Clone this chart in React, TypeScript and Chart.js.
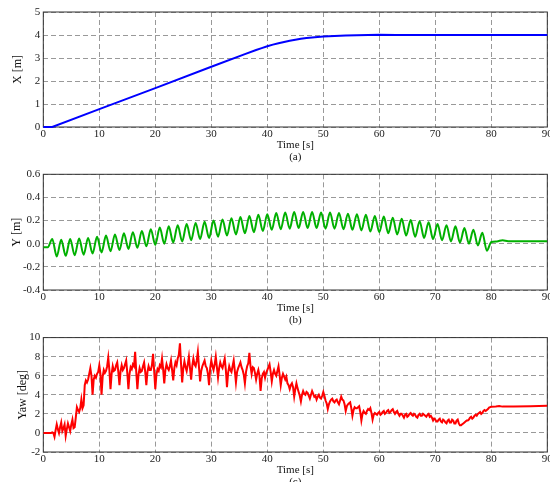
import React, { useEffect, useRef } from 'react';
import { Chart, registerables } from 'chart.js';

Chart.register(...registerables);

// ---------- Data ----------
const timeMin = 0;
const timeMax = 90;
const timeStep = 10;

// (a) X position [m]
const xTimes = [0, 1.6, 10, 20, 30, 36, 38, 39, 40, 41, 42, 43, 44, 45, 46, 47, 48, 50, 52, 54, 56, 58, 60, 63, 66, 70, 80, 90];
const xValues = [0, 0, 0.78, 1.69, 2.62, 3.17, 3.35, 3.43, 3.51, 3.58, 3.645, 3.7, 3.75, 3.795, 3.835, 3.87, 3.895, 3.935, 3.96, 3.98, 3.99, 4.0, 4.01, 4.0, 3.995, 4.0, 4.0, 4.0];

// (b) Y position [m] : samples every 0.8 s from 0 to 80 s (peaks / troughs)
const ySampleStart = 0;
const ySampleStep = 0.8;
const yValues = [
  -0.03, -0.03, 0.04, -0.11, 0.035, -0.105, 0.04, -0.1, 0.045, -0.095,
  0.05, -0.085, 0.06, -0.075, 0.07, -0.065, 0.08, -0.055, 0.09, -0.045,
  0.1, -0.035, 0.11, -0.022, 0.125, -0.01, 0.14, 0.0, 0.15, 0.01,
  0.16, 0.02, 0.17, 0.03, 0.18, 0.04, 0.19, 0.05, 0.2, 0.06,
  0.21, 0.07, 0.22, 0.08, 0.23, 0.09, 0.24, 0.1, 0.25, 0.11,
  0.255, 0.12, 0.265, 0.125, 0.27, 0.13, 0.275, 0.135, 0.275, 0.135,
  0.275, 0.135, 0.27, 0.13, 0.27, 0.13, 0.265, 0.125, 0.26, 0.12,
  0.255, 0.115, 0.25, 0.105, 0.24, 0.1, 0.235, 0.09, 0.225, 0.08,
  0.215, 0.07, 0.205, 0.06, 0.195, 0.05, 0.185, 0.04, 0.17, 0.03,
  0.16, 0.02, 0.15, 0.01, 0.135, 0.0, 0.12, -0.015, 0.095, -0.06,
  0.015,
];
const yTailTimes = [81.0, 82.0, 83.0, 90];
const yTailValues = [0.02, 0.03, 0.022, 0.022];

// (c) Yaw [deg] : samples every 0.2 s from 0 to 80 s
const yawSampleStart = 0;
const yawSampleStep = 0.2;
const yawValues = [
  0, 0, 0, 0, 0, 0, 0, 0, 0.05, 0.0, -0.4, 0.3, 0.9, 0.4, 0.0, 0.6, 1.1, 0.2, 0.5, 0.9,
  -0.3, 0.4, 1.0, 0.6, 0.2, 0.9, 1.4, 0.5, 0.6, 1.6, 2.7, 2.4, 2.2, 2.6, 3.5, 2.6, 2.9, 5.0, 5.5, 5.3,
  5.6, 6.2, 6.8, 6.0, 4.0, 5.6, 6.0, 5.8, 6.2, 6.4, 7.1, 6.2, 4.0, 5.9, 6.6, 6.3, 6.5, 7.0, 7.9, 6.6,
  4.6, 6.2, 7.0, 6.5, 6.6, 7.1, 7.4, 6.4, 5.0, 6.5, 7.1, 6.6, 6.8, 7.2, 7.6, 6.3, 4.6, 6.2, 6.9, 6.7,
  7.2, 7.0, 8.5, 6.4, 4.6, 6.1, 6.8, 6.4, 6.5, 7.0, 7.4, 6.4, 5.0, 6.4, 7.0, 6.6, 6.6, 7.1, 8.3, 6.5,
  4.6, 6.1, 6.7, 6.5, 7.1, 6.9, 7.8, 6.7, 5.2, 6.6, 7.2, 6.8, 6.6, 7.0, 7.6, 6.6, 5.5, 6.8, 7.4, 7.1,
  7.8, 8.2, 9.4, 7.2, 5.3, 6.8, 7.5, 6.9, 6.5, 7.2, 8.0, 6.8, 5.6, 7.0, 7.8, 7.2, 7.0, 7.6, 8.5, 6.9,
  5.4, 6.5, 7.0, 7.3, 7.6, 7.0, 6.8, 6.2, 5.0, 6.8, 7.6, 7.0, 6.6, 7.2, 8.0, 6.9, 5.8, 6.8, 7.4, 7.0,
  6.8, 7.3, 7.8, 6.6, 4.8, 6.3, 7.0, 6.6, 6.4, 7.0, 7.6, 6.5, 5.3, 6.4, 6.8, 7.1, 7.4, 6.9, 6.6, 6.1,
  5.2, 6.4, 7.0, 7.3, 8.4, 7.0, 6.2, 6.9, 6.8, 6.3, 5.6, 6.2, 6.6, 6.0, 4.4, 5.7, 6.2, 6.4, 5.8, 6.3,
  6.6, 6.9, 7.2, 6.4, 5.4, 6.2, 6.6, 6.2, 6.0, 6.5, 7.0, 6.1, 5.0, 5.8, 6.2, 5.9, 5.6, 5.9, 5.2, 5.0,
  4.6, 5.0, 5.2, 4.8, 3.8, 4.6, 5.2, 4.7, 4.3, 3.9, 3.3, 4.0, 4.4, 4.1, 4.0, 4.3, 4.2, 3.9, 3.6, 4.0,
  4.4, 4.1, 3.8, 3.9, 3.5, 3.8, 4.0, 3.7, 3.6, 3.9, 4.3, 3.9, 3.4, 3.1, 2.5, 3.0, 3.3, 3.5, 3.6, 3.3,
  3.2, 3.4, 3.5, 3.2, 3.0, 3.4, 3.8, 3.5, 3.4, 3.0, 2.3, 2.8, 3.0, 3.1, 3.2, 2.6, 1.8, 2.4, 2.7, 2.6,
  2.6, 2.7, 2.8, 2.2, 1.3, 2.0, 2.3, 2.1, 2.0, 2.3, 2.5, 2.4, 2.6, 2.1, 1.4, 1.9, 2.1, 2.0, 1.9, 2.1,
  2.2, 1.9, 2.0, 2.2, 2.3, 2.0, 2.1, 2.3, 2.4, 2.1, 2.2, 2.4, 2.5, 2.2, 2.0, 2.2, 2.3, 2.0, 1.8, 2.0,
  2.0, 1.8, 1.6, 1.9, 2.0, 1.7, 1.8, 2.0, 2.1, 1.9, 1.8, 2.0, 1.9, 1.7, 1.6, 1.9, 2.0, 1.8, 1.8, 2.0,
  1.9, 1.8, 1.7, 1.9, 2.0, 1.7, 1.8, 1.6, 1.3, 1.5, 1.4, 1.2, 1.2, 1.4, 1.5, 1.2, 1.1, 1.4, 1.3, 1.1,
  1.0, 1.3, 1.4, 1.1, 1.1, 1.4, 1.3, 1.0, 1.0, 1.3, 1.4, 1.0, 0.8, 0.8, 0.9, 1.0, 1.1, 1.2, 1.3, 1.3,
  1.4, 1.6, 1.7, 1.5, 1.6, 1.8, 1.9, 1.8, 2.0, 2.1, 2.2, 2.0, 2.1, 2.3, 2.4, 2.3, 2.4, 2.5, 2.65, 2.7,
  2.75,
];
const yawTailTimes = [80.8, 81.4, 82.0, 84.0, 87.0, 90.0];
const yawTailValues = [2.78, 2.82, 2.76, 2.78, 2.8, 2.85];

// Axis labels
const xTitle = 'Time [s]';
const captions = ['(a)', '(b)', '(c)'];
const yTitles = ['X [m]', 'Y [m]', 'Yaw [deg]'];

// ---------- helpers ----------
const pairs = (ts: number[], vs: number[]) => vs.map((v, i) => ({ x: ts[i], y: v }));
const sampled = (start: number, step: number, vs: number[]) =>
  vs.map((v, i) => ({ x: +(start + i * step).toFixed(3), y: v }));

const FONT = 'Liberation Serif, Times New Roman, serif';
const TEXT = '#222';

const boxPlugin = {
  id: 'box',
  beforeDatasetsDraw(chart: any) {
    const { ctx, chartArea } = chart;
    const { left, top, right, bottom } = chartArea;
    ctx.save();
    ctx.strokeStyle = '#333';
    ctx.lineWidth = 1;
    ctx.strokeRect(left, top, right - left, bottom - top);
    ctx.restore();
  },
};

type PanelProps = {
  top: number;
  height: number;
  padTop: number;
  padBottom: number;
  yMin: number;
  yMax: number;
  yStep: number;
  yDecimals: number;
  yTitle: string;
  yTitlePad: number;
  caption: string;
  datasets: any[];
};

function Panel(p: PanelProps) {
  const ref = useRef<HTMLCanvasElement>(null);
  useEffect(() => {
    const chart = new Chart(ref.current as HTMLCanvasElement, {
      type: 'line',
      data: { datasets: p.datasets },
      options: {
        animation: false,
        responsive: true,
        maintainAspectRatio: false,
        events: [],
        layout: { padding: { top: p.padTop, right: 12.7, bottom: p.padBottom, left: 0 } },
        plugins: { legend: { display: false }, tooltip: { enabled: false } },
        elements: { point: { radius: 0 } },
        scales: {
          x: {
            type: 'linear',
            min: timeMin,
            max: timeMax,
            ticks: {
              stepSize: timeStep,
              autoSkip: false,
              maxRotation: 0,
              padding: 0.5,
              color: TEXT,
              font: { family: FONT, size: 11 },
            },
            grid: { color: '#999', lineWidth: 1, drawTicks: false },
            border: { display: false, dash: [5, 3] },
            title: {
              display: true,
              text: [xTitle, p.caption],
              color: '#111',
              padding: 0,
              font: { family: FONT, size: 11, lineHeight: 12.5 / 11 },
            },
            afterFit: (s: any) => {
              s.height = 36.5;
            },
          },
          y: {
            type: 'linear',
            min: p.yMin,
            max: p.yMax,
            ticks: {
              stepSize: p.yStep,
              padding: 3,
              color: TEXT,
              font: { family: FONT, size: 11 },
              callback: (v: any) => Number(v).toFixed(p.yDecimals),
            },
            grid: { color: '#999', lineWidth: 1, drawTicks: false },
            border: { display: false, dash: [5, 3] },
            title: {
              display: true,
              text: p.yTitle,
              color: '#111',
              padding: { top: p.yTitlePad, bottom: 0 },
              font: { family: FONT, size: 12 },
            },
            afterFit: (s: any) => {
              s.width = 43.3;
            },
          },
        },
      } as any,
      plugins: [boxPlugin],
    });
    return () => chart.destroy();
  }, []);
  return (
    <div style={{ position: 'absolute', left: 0, top: p.top, width: 560, height: p.height }}>
      <canvas ref={ref} />
    </div>
  );
}

export default function App() {
  const xData = pairs(xTimes, xValues);
  const yData = [...sampled(ySampleStart, ySampleStep, yValues), ...pairs(yTailTimes, yTailValues)];
  const yawData = [
    ...sampled(yawSampleStart, yawSampleStep, yawValues),
    ...pairs(yawTailTimes, yawTailValues),
  ];

  return (
    <div
      style={{
        position: 'absolute',
        left: 0,
        top: 0,
        width: 550,
        height: 482,
        overflow: 'hidden',
        background: '#fff',
      }}
    >
      <Panel
        top={0}
        height={164}
        padTop={12}
        padBottom={0.5}
        yMin={0}
        yMax={5}
        yStep={1}
        yDecimals={0}
        yTitle={yTitles[0]}
        yTitlePad={10.5}
        caption={captions[0]}
        datasets={[
          {
            data: xData,
            borderColor: '#0000ff',
            borderWidth: 2,
            tension: 0,
            clip: 4,
          },
        ]}
      />
      <Panel
        top={164}
        height={163}
        padTop={10.3}
        padBottom={0.5}
        yMin={-0.4}
        yMax={0.6}
        yStep={0.2}
        yDecimals={1}
        yTitle={yTitles[1]}
        yTitlePad={9.5}
        caption={captions[1]}
        datasets={[
          {
            data: yData,
            borderColor: '#00b000',
            borderWidth: 2,
            cubicInterpolationMode: 'monotone',
          },
        ]}
      />
      <Panel
        top={328}
        height={161}
        padTop={8}
        padBottom={0.5}
        yMin={-2}
        yMax={10}
        yStep={2}
        yDecimals={0}
        yTitle={yTitles[2]}
        yTitlePad={16}
        caption={captions[2]}
        datasets={[
          {
            data: yawData,
            borderColor: '#ff0000',
            borderWidth: 2,
            tension: 0,
          },
        ]}
      />
    </div>
  );
}
